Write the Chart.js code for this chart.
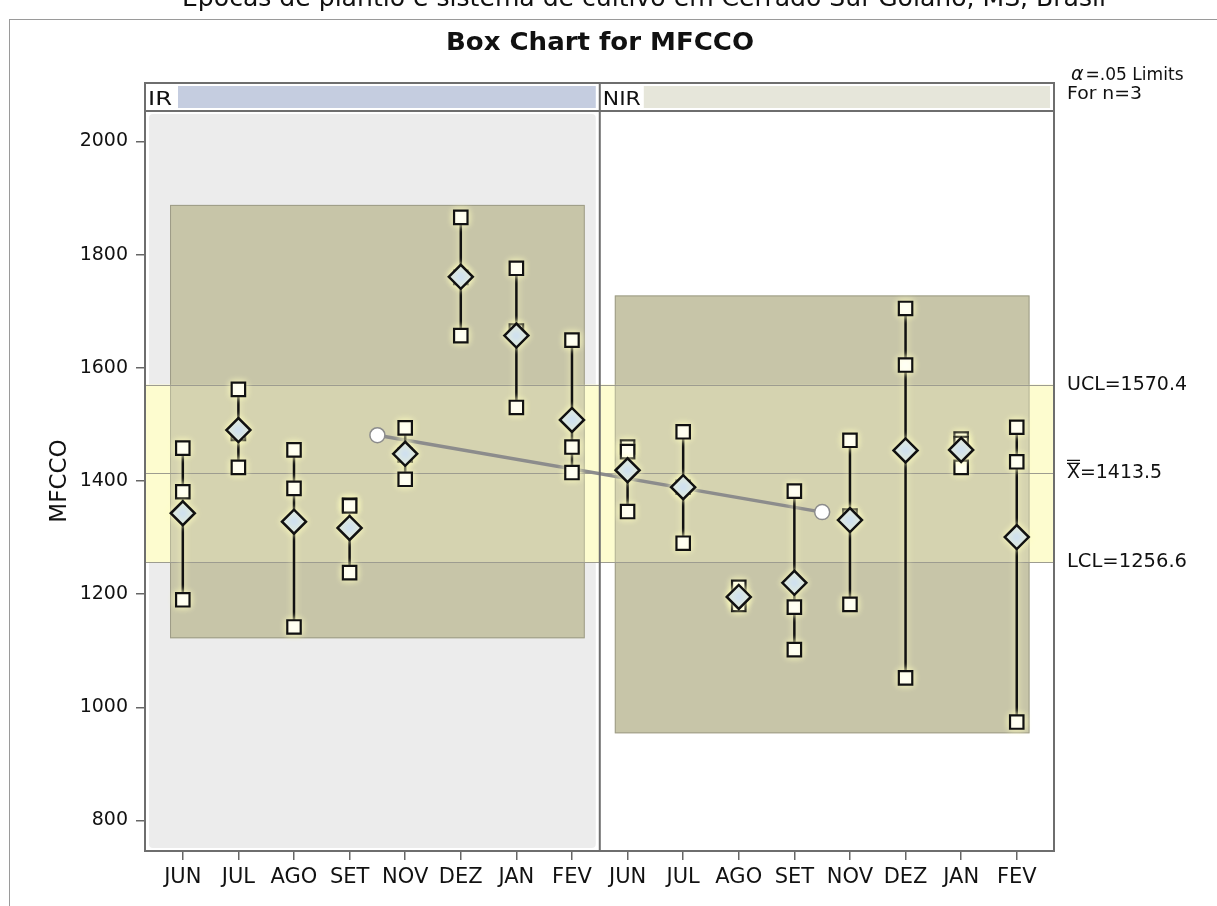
<!DOCTYPE html>
<html>
<head>
<meta charset="utf-8">
<script src="https://cdn.jsdelivr.net/npm/chart.js@4.4.1/dist/chart.umd.min.js"></script>
<style>
  html, body { margin: 0; padding: 0; background: #fff; }
  #wrap { width: 1217px; height: 906px; position: relative; }
</style>
</head>
<body>
<div id="wrap"><canvas id="boxChart"></canvas></div>
<script>
// ── Box chart MFCCO: IR x NIR por mês ──

const months   = ['JUN','JUL','AGO','SET','NOV','DEZ','JAN','FEV','JUN','JUL','AGO','SET','NOV','DEZ','JAN','FEV'];
const obsHigh  = [1458, 1562, 1455, 1358, 1494, 1866, 1776, 1649, 1460, 1487, 1212, 1382, 1472, 1705, 1474, 1495];
const obsMid   = [1381, 1484, 1387, 1356, 1446, 1760, 1665, 1460, 1452, 1389, 1190, 1177, 1338, 1605, 1466, 1434];
const obsLow   = [1190, 1424, 1142, 1238, 1403, 1657, 1530, 1415, 1346, 1290, 1182, 1102, 1182, 1052, 1424,  974];
const monthMeans = [1343, 1490, 1328, 1317, 1448, 1761, 1657, 1508, 1419, 1389, 1195, 1220, 1331, 1454, 1455, 1301];

const groups      = ['IR', 'NIR'];
const groupCentre = [3.5, 11.5];
const groupMean   = [1481, 1345];
const boxFrom     = [-0.23, 7.77];
const boxTo       = [7.23, 15.23];
const boxLow      = [1122, 954];
const boxHigh     = [1888, 1728];

const UCL = 1570.4, CENTER = 1413.5, LCL = 1256.6;
const yTicks = [800, 1000, 1200, 1400, 1600, 1800, 2000];

const FONT = '"DejaVu Sans", Verdana, sans-serif';

// pontos (3 observações por mês)
const obsPoints = [];
months.forEach((m, i) => {
  obsPoints.push({ x: i, y: obsHigh[i] }, { x: i, y: obsMid[i] }, { x: i, y: obsLow[i] });
});
// linhas verticais min-max, separadas por null
const whiskers = [];
months.forEach((m, i) => {
  const vals = [obsHigh[i], obsMid[i], obsLow[i]];
  whiskers.push({ x: i, y: Math.max(...vals) }, { x: i, y: Math.min(...vals) }, { x: i, y: null });
});

function fitText(ctx, text, x, y, width, align) {
  const w = ctx.measureText(text).width;
  const sx = width / w;
  ctx.save();
  ctx.translate(x, y);
  ctx.scale(sx, 1);
  ctx.textAlign = align || 'center';
  ctx.fillText(text, 0, 0);
  ctx.restore();
}

const glowPlugin = {
  id: 'glow',
  beforeDatasetDraw(chart, args) {
    if (!chart.data.datasets[args.index].glow) return;
    const ctx = chart.ctx;
    ctx.save();
    ctx.shadowColor = 'rgba(255,252,190,1)';
    ctx.shadowBlur = 7;
  },
  afterDatasetDraw(chart, args) {
    if (!chart.data.datasets[args.index].glow) return;
    chart.ctx.restore();
  }
};

const backdropPlugin = {
  id: 'backdrop',
  beforeDatasetsDraw(chart) {
    const { ctx, chartArea: a, scales: { x, y } } = chart;
    const divX = x.getPixelForValue(7.5);
    ctx.save();
    // fundo cinza do painel IR
    ctx.fillStyle = '#ececec';
    ctx.beginPath();
    ctx.roundRect(a.left + 4, a.top + 3, divX - a.left - 8, a.bottom - a.top - 6, 4);
    ctx.fill();
    // faixa entre limites
    const yU = y.getPixelForValue(UCL), yL = y.getPixelForValue(LCL);
    ctx.fillStyle = '#fdfbd2';
    ctx.fillRect(a.left, yU, a.right - a.left, yL - yU);
    // caixas por grupo
    groups.forEach((g, k) => {
      const x0 = x.getPixelForValue(boxFrom[k]), x1 = x.getPixelForValue(boxTo[k]);
      const y0 = y.getPixelForValue(boxHigh[k]), y1 = y.getPixelForValue(boxLow[k]);
      ctx.fillStyle = '#c7c5a8';
      ctx.fillRect(x0, y0, x1 - x0, y1 - y0);
      ctx.strokeStyle = 'rgba(140,138,120,0.7)';
      ctx.lineWidth = 1;
      ctx.strokeRect(x0 + 0.5, y0 + 0.5, x1 - x0 - 1, y1 - y0 - 1);
    });
    ctx.fillStyle = 'rgba(255,255,200,0.25)';
    ctx.fillRect(a.left, yU, a.right - a.left, yL - yU);
    // linhas de controle
    ctx.strokeStyle = '#9d9c90';
    ctx.lineWidth = 1.2;
    [UCL, CENTER, LCL].forEach(v => {
      const py = Math.round(y.getPixelForValue(v)) + 0.5;
      ctx.beginPath(); ctx.moveTo(a.left, py); ctx.lineTo(a.right, py); ctx.stroke();
    });
    ctx.restore();
  },
  afterDraw(chart) {
    const { ctx, chartArea: a, scales: { x, y } } = chart;
    const divX = x.getPixelForValue(7.5);
    const stripTop = 83;
    ctx.save();
    // moldura externa
    ctx.strokeStyle = '#9a9a9a';
    ctx.lineWidth = 1;
    ctx.strokeRect(9.5, 19.5, 1400, 1000);
    // texto cortado no topo
    ctx.fillStyle = '#111';
    ctx.font = '24px ' + FONT;
    ctx.textBaseline = 'alphabetic';
    fitText(ctx, 'Épocas de plantio e sistema de cultivo em Cerrado Sul-Goiano, MS, Brasil', 644, 6, 924);
    // barras do strip
    ctx.fillStyle = '#c5cde0';
    ctx.fillRect(a.left + 33, stripTop + 3, divX - a.left - 37, a.top - stripTop - 6);
    ctx.fillStyle = '#e6e6da';
    ctx.fillRect(divX + 44, stripTop + 3, a.right - divX - 48, a.top - stripTop - 6);
    ctx.fillStyle = '#111';
    ctx.font = '19px ' + FONT;
    ctx.textAlign = 'left';
    fitText(ctx, 'IR', a.left + 3, a.top - 6, 24, 'left');
    fitText(ctx, 'NIR', divX + 3, a.top - 6, 38, 'left');
    // molduras
    ctx.strokeStyle = '#6e6e6e';
    ctx.lineWidth = 2;
    ctx.strokeRect(a.left, stripTop, a.right - a.left, a.bottom - stripTop);
    ctx.beginPath();
    ctx.moveTo(a.left, a.top); ctx.lineTo(a.right, a.top);
    ctx.moveTo(divX, stripTop); ctx.lineTo(divX, a.bottom);
    ctx.stroke();
    // título
    ctx.fillStyle = '#111';
    ctx.font = 'bold 24px ' + FONT;
    fitText(ctx, 'Box Chart for MFCCO', 600, 50, 308);
    // limites à direita
    ctx.font = '19px ' + FONT;
    ctx.textAlign = 'left';
    ctx.textBaseline = 'middle';
    const lx = a.right + 13;
    fitText(ctx, 'UCL=1570.4', lx, y.getPixelForValue(UCL), 120, 'left');
    fitText(ctx, 'LCL=1256.6', lx, y.getPixelForValue(LCL), 120, 'left');
    const yc = y.getPixelForValue(CENTER);
    fitText(ctx, 'X=1413.5', lx, yc, 95, 'left');
    const xw = ctx.measureText('X').width;
    ctx.strokeStyle = '#111';
    ctx.lineWidth = 1.3;
    ctx.beginPath();
    ctx.moveTo(lx, yc - 10); ctx.lineTo(lx + xw, yc - 10);
    ctx.moveTo(lx, yc - 13); ctx.lineTo(lx + xw, yc - 13);
    ctx.stroke();
    // alpha
    ctx.textBaseline = 'alphabetic';
    ctx.font = 'italic 19px ' + FONT;
    ctx.fillText('α', lx + 4, 80);
    const aw = ctx.measureText('α').width;
    ctx.font = '18px ' + FONT;
    fitText(ctx, '=.05 Limits', lx + 4 + aw + 2, 80, 98, 'left');
    fitText(ctx, 'For n=3', lx, 99, 75, 'left');
    ctx.restore();
  }
};

new Chart(document.getElementById('boxChart'), {
  type: 'scatter',
  data: {
    datasets: [
      { label: 'Média', data: months.map((m, i) => ({ x: i, y: monthMeans[i] })),
        pointStyle: 'rectRot', pointRadius: 12, backgroundColor: '#cddff2',
        borderColor: '#111', borderWidth: 2.5, order: 1, glow: true },
      { label: 'Obs', data: obsPoints,
        pointStyle: 'rect', pointRadius: 9.5, backgroundColor: '#fff',
        borderColor: '#111', borderWidth: 2.2, order: 2, glow: true },
      { type: 'line', label: 'Amplitude', data: whiskers, spanGaps: false,
        borderColor: '#111', borderWidth: 2.5, pointRadius: 0, order: 3, glow: true },
      { type: 'line', label: 'Média do grupo', data: groupCentre.map((c, k) => ({ x: c, y: groupMean[k] })),
        borderColor: '#8c8c8c', borderWidth: 3.5, pointRadius: 7.5,
        pointBackgroundColor: '#fff', pointBorderColor: '#8c8c8c', pointBorderWidth: 1.5, order: 4 }
    ]
  },
  options: {
    responsive: true, maintainAspectRatio: false, animation: false, events: [],
    layout: { padding: { left: 0, top: 111, right: 163, bottom: 0 } },
    plugins: { legend: { display: false }, tooltip: { enabled: false } },
    scales: {
      x: {
        type: 'linear', min: -0.68, max: 15.67,
        afterBuildTicks: s => { s.ticks = months.map((m, i) => ({ value: i })); },
        afterFit: s => { s.height = 55; },
        ticks: { callback: (v, i) => months[i], color: '#111', font: { family: FONT, size: 21 },
                 maxRotation: 0, autoSkip: false, padding: 5 },
        grid: { drawOnChartArea: false, tickLength: 9, color: '#666', lineWidth: 1.5 },
        border: { display: false }
      },
      y: {
        min: 746, max: 2054,
        afterBuildTicks: s => { s.ticks = yTicks.map(v => ({ value: v })); },
        afterFit: s => { s.width = 145; },
        ticks: { callback: v => String(v), color: '#111', font: { family: FONT, size: 19 }, padding: 8 },
        grid: { drawOnChartArea: false, tickLength: 9, color: '#666', lineWidth: 1.5 },
        border: { display: false },
        title: { display: true, text: 'MFCCO', color: '#111', font: { family: FONT, size: 23 }, padding: { top: 46 } }
      }
    }
  },
  plugins: [glowPlugin, backdropPlugin]
});
</script>
</body>
</html>
